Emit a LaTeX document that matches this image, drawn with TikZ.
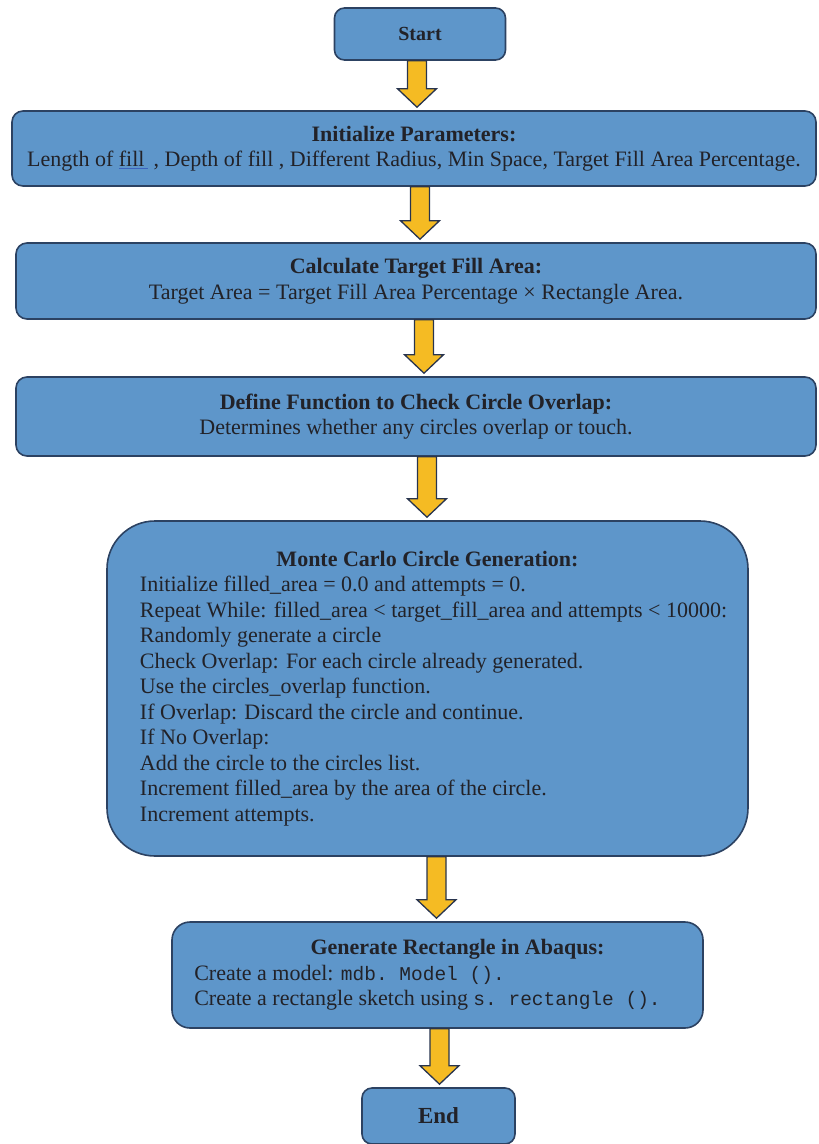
\documentclass[tikz,border=0pt]{standalone}
\usepackage{fontspec}
\setmainfont{Liberation Serif}
\setmonofont{Liberation Mono}
\usetikzlibrary{calc}

\definecolor{boxfill}{RGB}{94,150,202}
\definecolor{boxline}{RGB}{44,66,98}
\definecolor{arrowfill}{RGB}{245,187,35}
\definecolor{arrowline}{RGB}{40,52,78}
\definecolor{txt}{RGB}{34,34,40}
\definecolor{markblue}{RGB}{60,100,190}

\newcommand{\markit}[1]{{\color{markblue}\underline{\textcolor{txt}{#1}}}}
\newcommand{\code}[1]{{\fontsize{19.5}{25.5}\ttfamily #1}}

\begin{document}
\begin{tikzpicture}[
  x=1pt, y=-1pt,
  stepbox/.style={
    draw=boxline, fill=boxfill, line width=1.6pt,
    rounded corners=11pt,
    inner sep=0pt, align=center,
    text=txt, font=\fontsize{22}{25.5}\selectfont
  },
  % block arrow from the start point straight down to the target
  fatarrow/.style={
    draw=arrowline, fill=arrowfill, line width=1.3pt, line join=miter,
    to path={let \p1=(\tikztostart), \p2=(\tikztotarget) in
      ({\x1-9.5pt},\y1) -- ({\x1+9.5pt},\y1) -- ({\x1+9.5pt},{\y2+21.5pt})
      -- ({\x1+19.5pt},{\y2+21.5pt}) -- (\x1,{\y2+3pt})
      -- ({\x1-19.5pt},{\y2+21.5pt}) -- ({\x1-9.5pt},{\y2+21.5pt}) -- cycle}
  }
]
\useasboundingbox (0,0) rectangle (819,1144);

% --- Start ---
\node[stepbox, minimum width=171pt, minimum height=52pt, rounded corners=10pt,
  font=\fontsize{20}{25}\selectfont] (start) at (420,34) {\textbf{Start}};

% --- Parameters ---
\node[stepbox, minimum width=804pt, minimum height=75pt] (init) at (414,148.5)
  {\textbf{Initialize Parameters:}\\
   Length of \markit{fill\,} , Depth of fill , Different Radius, Min Space, Target Fill Area Percentage.};

% --- Target area ---
\node[stepbox, minimum width=800pt, minimum height=76pt] (calc) at (416,281)
  {\textbf{Calculate Target Fill Area:}\\
   Target Area = Target Fill Area Percentage × Rectangle Area.};

% --- Overlap check ---
\node[stepbox, minimum width=800pt, minimum height=79pt] (overlap) at (416,416.5)
  {\textbf{Define Function to Check Circle Overlap:}\\
   Determines whether any circles overlap or touch.};

% --- Monte Carlo ---
\node[stepbox, minimum width=641pt, minimum height=335pt, rounded corners=48pt]
  (mc) at (427.5,688.5)
  {\begin{tabular}{@{\hspace{12pt}}l@{}}
   \multicolumn{1}{c}{\textbf{Monte Carlo Circle Generation:}}\\
   Initialize filled\_area = 0.0 and attempts = 0.\\
   Repeat While: filled\_area < target\_fill\_area and attempts < 10000:\\
   Randomly generate a circle\\
   Check Overlap: For each circle already generated.\\
   Use the circles\_overlap function.\\
   If Overlap: Discard the circle and continue.\\
   If No Overlap:\\
   Add the circle to the circles list.\\
   Increment filled\_area by the area of the circle.\\
   Increment attempts.
   \end{tabular}};

% --- Abaqus ---
\node[stepbox, minimum width=531pt, minimum height=106pt, rounded corners=18pt]
  (gen) at (437.5,975)
  {\begin{tabular}{@{}l@{\hspace{20pt}}}
   \multicolumn{1}{@{\hspace{40pt}}c@{}}{\textbf{Generate Rectangle in Abaqus:}}\\
   Create a model: \code{mdb. Model ().}\\
   Create a rectangle sketch using \code{s. rectangle ().}
   \end{tabular}};

% --- End ---
\node[stepbox, minimum width=153pt, minimum height=56pt, rounded corners=10pt,
  font=\fontsize{23}{25}\selectfont] (finish) at (438.5,1116) {\textbf{End}};

% --- arrows ---
\draw[fatarrow] ([xshift=-3pt]start.south) to (init.north);
\draw[fatarrow] ([xshift=6pt]init.south) to (calc.north);
\draw[fatarrow] ([xshift=8pt]calc.south) to (overlap.north);
\draw[fatarrow] ([xshift=11pt]overlap.south) to (mc.north);
\draw[fatarrow] ([xshift=9pt]mc.south) to (gen.north);
\draw[fatarrow] ([xshift=2pt]gen.south) to (finish.north);

\end{tikzpicture}
\end{document}
